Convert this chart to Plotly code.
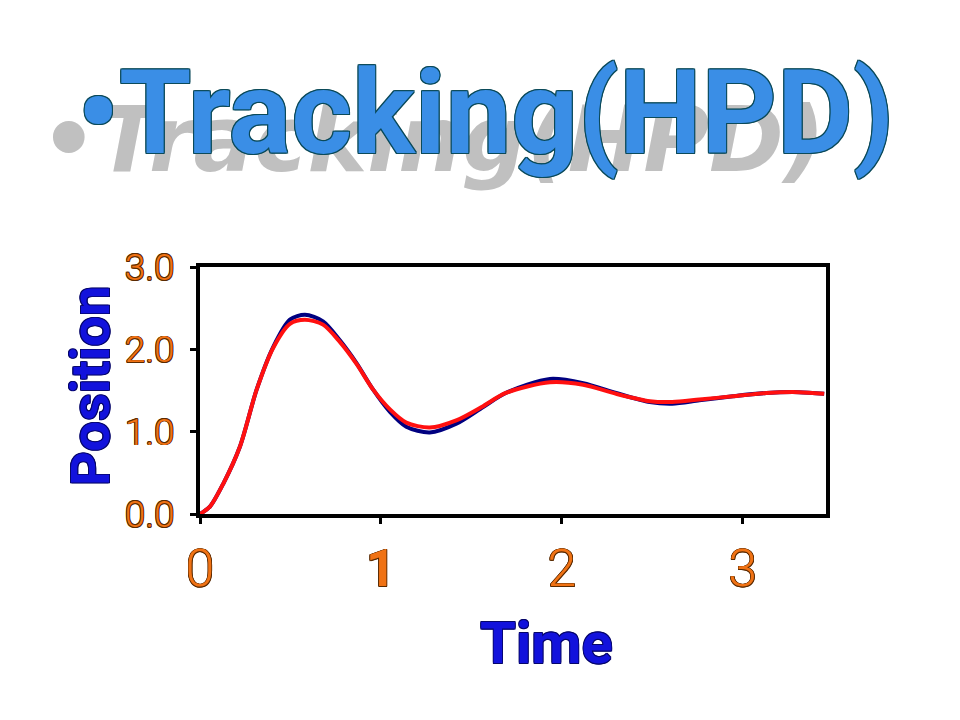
import plotly.graph_objects as go

# ---- data ----
time_s = [0, 0.055, 0.129, 0.221, 0.313, 0.405, 0.497, 0.58, 0.68, 0.773, 0.866, 0.957,
          1.05, 1.14, 1.27, 1.42, 1.565, 1.69, 1.934, 2.118, 2.30, 2.486, 2.61, 2.76,
          2.946, 3.13, 3.31, 3.45]
pos_blue = [0, 0.09, 0.37, 0.82, 1.51, 2.03, 2.36, 2.42, 2.34, 2.11, 1.83, 1.51,
            1.24, 1.06, 0.99, 1.10, 1.30, 1.47, 1.64, 1.59, 1.47, 1.36, 1.34, 1.38,
            1.43, 1.47, 1.48, 1.46]
pos_red = [0, 0.09, 0.37, 0.82, 1.51, 2.02, 2.31, 2.36, 2.30, 2.09, 1.82, 1.51,
           1.27, 1.11, 1.05, 1.14, 1.31, 1.47, 1.60, 1.57, 1.46, 1.37, 1.36, 1.39,
           1.43, 1.47, 1.48, 1.46]

x_tickvals = [0, 1, 2, 3]
x_ticktext = ["0", "<b>1</b>", "2", "3"]
y_tickvals = [0, 1, 2, 3]
y_ticktext = ["0.0", "1.0", "2.0", "3.0"]

title_text = "•Tracking(HPD)"
x_title = "Time"
y_title = "Position"

FONT = "Roboto, Liberation Sans, Arial, sans-serif"

def outline(c, w=1.0):
    return ", ".join(f"{dx}px {dy}px 0 {c}" for dx, dy in
                     [(w, 0), (-w, 0), (0, w), (0, -w), (w, w), (-w, -w), (w, -w), (-w, w)])

fig = go.Figure()
fig.add_trace(go.Scatter(x=time_s, y=pos_blue, mode="lines",
                         line=dict(color="#000080", width=4, shape="spline", smoothing=0.8),
                         showlegend=False, hoverinfo="skip"))
fig.add_trace(go.Scatter(x=time_s, y=pos_red, mode="lines",
                         line=dict(color="#FF1010", width=4, shape="spline", smoothing=0.8),
                         showlegend=False, hoverinfo="skip"))

fig.update_xaxes(range=[0, 3.46], tickvals=x_tickvals, ticktext=x_ticktext,
                 showgrid=False, zeroline=False, showline=True, linecolor="black",
                 linewidth=4, mirror=True, ticks="outside", ticklen=6, tickwidth=3,
                 tickcolor="black", ticklabelstandoff=0,
                 tickfont=dict(size=52, family=FONT, color="#F07214", weight=300,
                               shadow=outline("#5a2a00", 0.7)))
fig.update_yaxes(range=[0, 3], tickvals=y_tickvals, ticktext=y_ticktext,
                 showgrid=False, zeroline=False, showline=True, linecolor="black",
                 linewidth=4, mirror=True, ticks="outside", ticklen=6, tickwidth=3,
                 tickcolor="black", ticklabelstandoff=8,
                 tickfont=dict(size=37, family=FONT, color="#F07214", weight=300,
                               shadow=outline("#5a2a00", 0.7)))

# page has an 8px body margin; size the figure so the plot lands where the reference has it
OFF = 8
W, H = 952, 712
L = 200 - OFF
T = 267 - OFF
R = W - (826 - OFF)
B = H - (514 - OFF)

def px(X):
    return (X - OFF - L) / (W - L - R)

def py(Y):
    return (H - B - (Y - OFF)) / (H - T - B)

annotations = [
    # gray skewed shadow of the title
    dict(text=f"<i>{title_text}</i>", x=px(432), y=py(139), xref="paper", yref="paper",
         showarrow=False, xanchor="center", yanchor="middle",
         font=dict(family="DejaVu Sans, sans-serif", size=90, color="#C0C0C0", weight="bold")),
    # main title
    dict(text=title_text, x=px(485), y=py(113), xref="paper", yref="paper",
         showarrow=False, xanchor="center", yanchor="middle",
         font=dict(family=FONT, size=117, color="#3A8EE6", weight="bold",
                   shadow=outline("#0b4a5a", 1))),
    dict(text=x_title, x=px(546), y=py(643), xref="paper", yref="paper",
         showarrow=False, xanchor="center", yanchor="middle",
         font=dict(family=FONT, size=58, color="#1212DC",
                   weight="bold", shadow=outline("#06066a", 0.8))),
    dict(text=y_title, x=px(90), y=py(386), xref="paper", yref="paper",
         showarrow=False, xanchor="center", yanchor="middle", textangle=-90,
         font=dict(family=FONT, size=54, color="#1212DC", weight="bold",
                   shadow=outline("#06066a", 0.8))),
]

fig.update_layout(width=W, height=H, margin=dict(l=L, r=R, t=T, b=B),
                  paper_bgcolor="white", plot_bgcolor="white",
                  annotations=annotations, showlegend=False)

fig.write_html("out.html")
